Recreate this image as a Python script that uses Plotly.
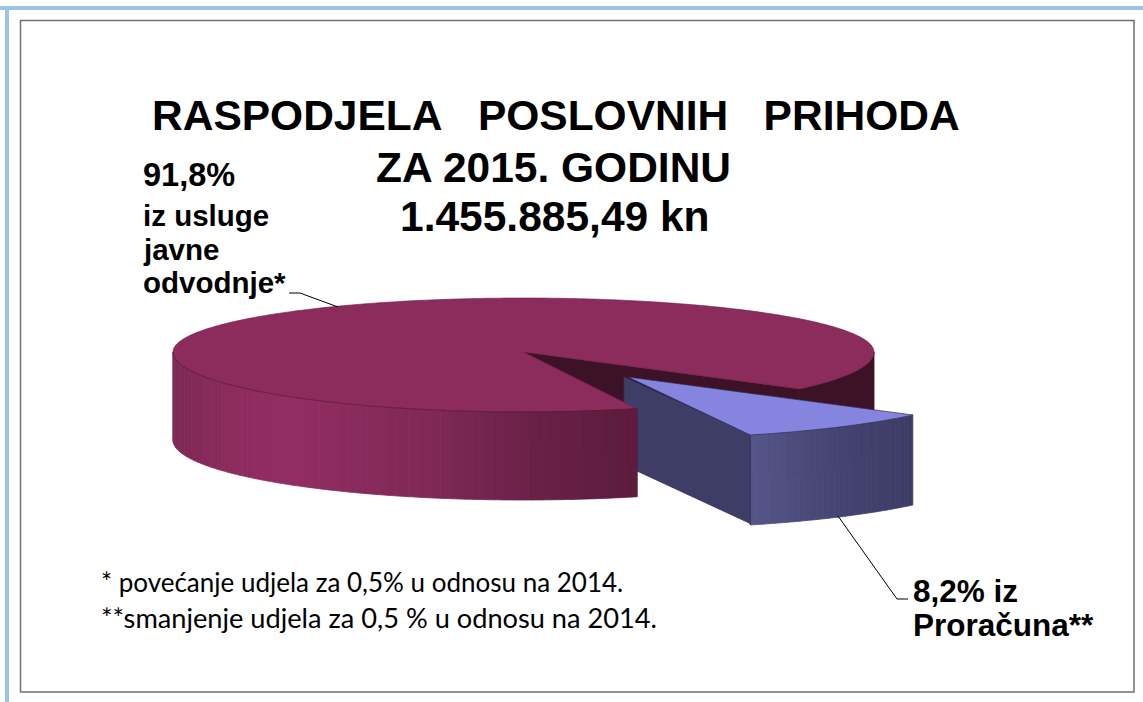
import numpy as np
import plotly.graph_objects as go

# ---- data ----
categories = ["iz usluge javne odvodnje", "iz Proračuna"]
shares = [91.8, 8.2]

title_lines = ["RASPODJELA\u00a0\u00a0\u00a0POSLOVNIH\u00a0\u00a0\u00a0PRIHODA", "ZA 2015. GODINU", "1.455.885,49 kn"]
big_label_lines = ["91,8%", "iz usluge", "javne", "odvodnje*"]
small_label_lines = ["8,2% iz", "Proračuna**"]
footnotes = ["* povećanje udjela za 0,5% u odnosu na 2014.", "**smanjenje udjela za 0,5 % u odnosu na 2014."]

# ---- pie geometry (pixel-like axis units) ----
W, H = 1143, 702
CX, CY, RX, RY_BACK, RY_FRONT, DEPTH = 523.5, 352, 350.5, 54, 60, 88
SX, SY, SRX, SRY, SDEPTH = 626, 377, 364, 61.7, 90
CUT_START = 38.0           # degrees clockwise from 3 o'clock on the drawn ellipse
CUT_END = CUT_START + shares[1] * 3.6 * 1.085      # exploded slice
CUT_END_BIG = CUT_START + shares[1] * 3.6 * 1.12   # large slice


def rim(t):
    t = np.radians(t)
    s = np.sin(t)
    return CX + RX * np.cos(t), CY + np.where(s > 0, RY_FRONT, RY_BACK) * s


def srim(t):
    t = np.radians(t)
    return SX + SRX * np.cos(t), SY + SRY * np.sin(t)


def lerp_color(stops, f):
    pos = [p for p, _ in stops]
    cols = np.array([c for _, c in stops], float)
    rgb = [np.interp(f, pos, cols[:, i]) for i in range(3)]
    return "rgb(%d,%d,%d)" % tuple(int(round(v)) for v in rgb)


fig = go.Figure()


def poly(x, y, color, line=None, lw=0.8):
    fig.add_trace(go.Scatter(x=list(x) + [x[0]], y=list(y) + [y[0]], mode="lines", fill="toself",
                             fillcolor=color, line=dict(color=line or color, width=lw, simplify=False),
                             hoverinfo="skip", showlegend=False))


def path(x, y, color="#000000", width=1.0):
    fig.add_trace(go.Scatter(x=x, y=y, mode="lines", line=dict(color=color, width=width, simplify=False),
                             hoverinfo="skip", showlegend=False))


DARK = "#3d1126"
# inner cut wall and shaded right part of the rim
rx0, ry0 = rim(CUT_START)
poly([CX, float(rx0), float(rx0), CX], [CY, float(ry0), float(ry0) + DEPTH, CY + DEPTH], DARK)
tt = np.linspace(0, CUT_START, 30)
rx_, ry_ = rim(tt)
poly(np.r_[rx_, rx_[::-1]], np.r_[ry_, ry_[::-1] + DEPTH], DARK)

# left wall of the exploded slice
ax, ay = srim(CUT_END)
ax, ay = float(ax), float(ay)
poly([SX - 2, ax + 1, ax + 1, SX - 2], [SY, ay, ay + SDEPTH - 1, SY + SDEPTH - 2], "#3d3d66", "#33335a")

# top of the large slice
tt = np.linspace(CUT_END_BIG, 360 + CUT_START, 400)
bx, by = rim(tt)
poly(np.r_[CX, bx], np.r_[CY, by], "#8b2c5c", "#6b2048", 0.6)

# front wall of the large slice as gradient strips
wall_stops = [(0.0, (124, 40, 84)), (0.12, (140, 44, 94)), (0.25, (146, 45, 98)),
              (0.55, (128, 40, 86)), (0.8, (104, 32, 70)), (1.0, (92, 28, 60))]
edges = np.linspace(180, CUT_END_BIG, 61)
for a, b in zip(edges[:-1], edges[1:]):
    seg = np.linspace(a, b, 4)
    x_, y_ = rim(seg)
    f = (float(np.mean(x_)) - (CX - RX)) / (float(rim(CUT_END_BIG)[0]) - (CX - RX))
    poly(np.r_[x_, x_[::-1]], np.r_[y_, y_[::-1] + DEPTH], lerp_color(wall_stops, f))
x_, y_ = rim(np.linspace(CUT_END_BIG, 180, 200))
path(x_, y_, "#5d1a3e", 0.8)

# front wall of the exploded slice
front_stops = [(0.0, (86, 86, 138)), (0.25, (76, 76, 124)), (0.6, (66, 66, 110)), (1.0, (60, 60, 102))]
edges = np.linspace(CUT_END, CUT_START, 31)
for i, (a, b) in enumerate(zip(edges[:-1], edges[1:])):
    seg = np.linspace(a, b, 4)
    x_, y_ = srim(seg)
    poly(np.r_[x_, x_[::-1]], np.r_[y_, y_[::-1] + SDEPTH], lerp_color(front_stops, (i + .5) / 30))

# top of the exploded slice
tt = np.linspace(CUT_START, CUT_END, 60)
sx_, sy_ = srim(tt)
poly(np.r_[SX + 2, sx_], np.r_[SY, sy_], "#8585e0", "#2f2f55", 0.7)
path([ax, ax], [ay, ay + SDEPTH], "#2a2a50", 0.8)

# leader lines
path([289, 300, 338], [293, 293, 307])
path([838, 897, 908], [516, 599, 599])

shapes = [
    dict(type="rect", x0=0, x1=W, y0=6, y1=10, line_width=0, fillcolor="#9dc3e6", layer="below"),
    dict(type="rect", x0=5, x1=9, y0=6, y1=H, line_width=0, fillcolor="#9dc3e6", layer="below"),
    dict(type="rect", x0=20.5, x1=1134, y0=20.5, y1=692, line=dict(color="#6f6f6f", width=1.5), layer="below"),
]

ann = []


def text(s, x, y, size, family="Liberation Sans", bold=True, anchor="left"):
    ann.append(dict(x=x, y=y, text=f"<b>{s}</b>" if bold else s, showarrow=False, xanchor=anchor, yanchor="middle",
                    font=dict(family=family, size=size, color="#000000"), xref="x", yref="y"))


for s, x, y, size in zip(title_lines, [556, 553, 555], [115, 167, 216], [42.5, 42.5, 42.5]):
    text(s, x, y, size, anchor="center")
for s, y, size in zip(big_label_lines, [175, 215, 249, 282], [32.5, 29.5, 29.5, 29.5]):
    text(s, 140.5, y, size)
for s, y in zip(small_label_lines, [591, 625]):
    text(s, 911, y, 31.5)
for s, y, size in zip(footnotes, [582, 617], [26, 27.2]):
    text(s, 98.5, y, size, family="Lato", bold=False)

fig.update_layout(
    width=W, height=H, margin=dict(l=0, r=0, t=0, b=0), paper_bgcolor="#ffffff", plot_bgcolor="#ffffff",
    xaxis=dict(range=[0, W], visible=False, fixedrange=True),
    yaxis=dict(range=[H, 0], visible=False, fixedrange=True),
    shapes=shapes, annotations=ann, showlegend=False,
)
fig.write_html("out.html", config={"displayModeBar": False},
               post_script="document.body.style.margin='0';document.body.style.overflow='hidden';")
